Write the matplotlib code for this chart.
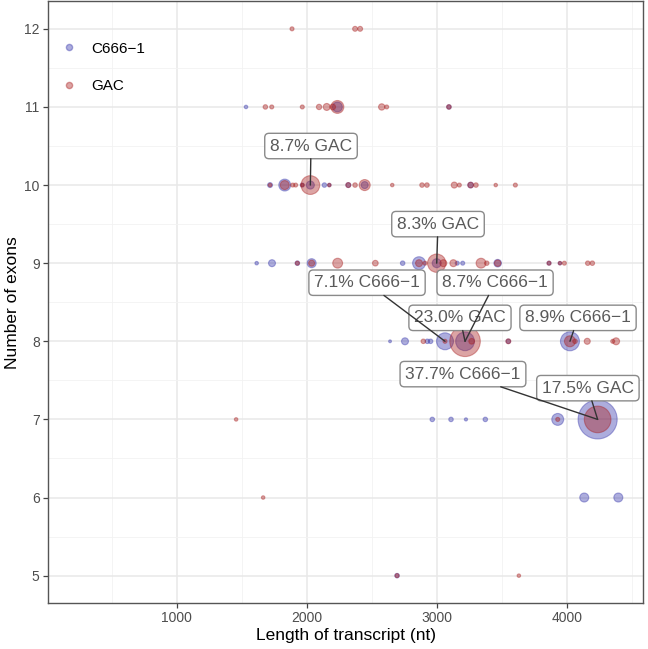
import matplotlib.pyplot as plt
from matplotlib.lines import Line2D
from matplotlib.ticker import MultipleLocator

plt.rcParams['font.family'] = ['Liberation Sans', 'DejaVu Sans']

# -------------------------------------------------
# Data (length nt, exon count, % of transcripts)
# -------------------------------------------------
c666_len = [1533, 2236, 3094,
            1718, 1831, 1966, 2028, 2136, 2174, 2320, 2446, 3261,
            1615, 1733, 1928, 2038, 2738, 2864, 3000, 3158, 3200, 3469, 3864, 3948,
            2641, 2756, 2928, 2953, 3064, 3218, 3551, 4025,
            2966, 3110, 3225, 3374, 3931, 4238,
            4135, 4397,
            2695]
c666_exons = [11, 11, 11,
              10, 10, 10, 10, 10, 10, 10, 10, 10,
              9, 9, 9, 9, 9, 9, 9, 9, 9, 9, 9, 9,
              8, 8, 8, 8, 8, 8, 8, 8,
              7, 7, 7, 7, 7, 7,
              6, 6,
              5]
c666_pct = [0.3, 2.4, 0.5,
            0.6, 3.5, 0.4, 1.6, 0.5, 0.3, 0.6, 1.2, 0.8,
            0.3, 1.2, 0.5, 2.0, 0.5, 4.1, 2.0, 0.4, 0.4, 1.4, 0.4, 0.3,
            0.2, 1.2, 0.5, 0.5, 7.1, 8.7, 0.5, 8.9,
            0.5, 0.5, 0.25, 0.5, 3.5, 37.7,
            2.0, 2.0,
            0.5]

gac_len = [1887, 2372, 2411,
           1682, 1731, 1966, 2095, 2154, 2200, 2236, 2577, 2615, 3094,
           1718, 1831, 1892, 1915, 1966, 2028, 2174, 2320, 2372, 2446, 2658, 2887,
           2925, 3135, 3174, 3261, 3302, 3454, 3605,
           1928, 2038, 2238, 2528, 2864, 2910, 3000, 3051, 3128, 3341, 3385, 3469,
           3864, 3948, 3982, 4162, 4197,
           2897, 3064, 3218, 3269, 3551, 4025, 4064, 4158, 4354, 4380,
           1457, 3931, 4238,
           1665,
           2695, 3632]
gac_exons = [12, 12, 12,
             11, 11, 11, 11, 11, 11, 11, 11, 11, 11,
             10, 10, 10, 10, 10, 10, 10, 10, 10, 10, 10, 10,
             10, 10, 10, 10, 10, 10, 10,
             9, 9, 9, 9, 9, 9, 9, 9, 9, 9, 9, 9,
             9, 9, 9, 9, 9,
             8, 8, 8, 8, 8, 8, 8, 8, 8, 8,
             7, 7, 7,
             6,
             5, 5]
gac_pct = [0.4, 0.6, 0.6,
           0.5, 0.4, 0.4, 0.7, 1.2, 0.8, 4.1, 1.0, 0.4, 0.5,
           0.3, 2.0, 0.4, 0.4, 0.3, 8.7, 0.3, 0.6, 0.5, 3.0, 0.3, 0.5,
           0.5, 0.9, 0.4, 0.8, 0.5, 0.3, 0.4,
           0.4, 0.9, 2.4, 0.8, 1.2, 0.4, 8.3, 1.2, 1.2, 2.4, 0.5, 1.0,
           0.4, 0.3, 0.4, 0.5, 0.5,
           0.5, 0.4, 23.0, 0.8, 0.6, 3.0, 0.5, 0.9, 0.4, 1.2,
           0.3, 0.4, 17.5,
           0.3,
           0.4, 0.3]

# labelled points: text, point (x, y), label centre (x, y)
label_text = ["8.7% GAC", "8.3% GAC", "7.1% C666\u22121", "8.7% C666\u22121",
              "23.0% GAC", "8.9% C666\u22121", "37.7% C666\u22121", "17.5% GAC"]
label_point = [(2028, 10), (3000, 9), (3064, 8), (3218, 8),
               (3218, 8), (4025, 8), (4238, 7), (4238, 7)]
label_pos = [(2033, 10.50), (3010, 9.50), (2464, 8.75), (3449, 8.75),
             (3179, 8.30), (4087, 8.30), (3202, 7.58), (4163, 7.40)]

BLUE = "#3333aa"
RED = "#a81c1c"
SIZE_K = 21.0

# -------------------------------------------------
# Figure
# -------------------------------------------------
fig = plt.figure(figsize=(6.48, 6.49), dpi=100)
ax = fig.add_axes([0.0741, 0.0709, 0.9182, 0.9268])

ax.scatter(c666_len, c666_exons, s=[p * SIZE_K for p in c666_pct],
           facecolor=BLUE, edgecolor=BLUE, alpha=0.4, linewidth=0.8, zorder=3)
ax.scatter(gac_len, gac_exons, s=[p * SIZE_K for p in gac_pct],
           facecolor=RED, edgecolor=RED, alpha=0.4, linewidth=0.8, zorder=4)

box_style = "round,pad=0.3,rounding_size=0.25"

# label boxes first
for txt, pos in zip(label_text, label_pos):
    ax.annotate(txt, xy=pos, ha="center", va="center",
                fontsize=12.5, color="#5a5a5a", zorder=6,
                bbox=dict(boxstyle=box_style, fc="white", ec="#8a8a8a", lw=1.0))

# segments on top of the boxes (clipped at their own invisible box)
for txt, pt, pos in zip(label_text, label_point, label_pos):
    ax.annotate(txt, xy=pt, xytext=pos, ha="center", va="center",
                fontsize=12.5, color="none", zorder=7,
                bbox=dict(boxstyle=box_style, fc="none", ec="none"),
                arrowprops=dict(arrowstyle="-", color="#333333", lw=1.0,
                                shrinkA=0, shrinkB=0))

ax.set_xlim(10, 4587)
ax.set_ylim(4.65, 12.35)
ax.xaxis.set_major_locator(MultipleLocator(1000))
ax.xaxis.set_minor_locator(MultipleLocator(500))
ax.yaxis.set_major_locator(MultipleLocator(1))
ax.yaxis.set_minor_locator(MultipleLocator(0.5))

ax.grid(which="major", color="#e8e8e8", linewidth=1.1, zorder=0)
ax.grid(which="minor", color="#f2f2f2", linewidth=0.6, zorder=0)
ax.set_axisbelow(True)

for sp in ax.spines.values():
    sp.set_color("#555555")
    sp.set_linewidth(1.0)

ax.tick_params(which="major", length=3.5, width=0.9, color="#444444",
               labelsize=10, labelcolor="#4d4d4d", pad=2.5)
ax.tick_params(which="minor", length=0)

ax.set_xlabel("Length of transcript (nt)", fontsize=12.5, labelpad=2)
ax.set_ylabel("Number of exons", fontsize=12.5, labelpad=3)

handles = [Line2D([], [], ls="", marker="o", ms=4.5, color=BLUE, alpha=0.4),
           Line2D([], [], ls="", marker="o", ms=4.5, color=RED, alpha=0.4)]
ax.legend(handles, ["C666\u22121", "GAC"], loc="upper left",
          bbox_to_anchor=(0.022, 0.933), frameon=False, fontsize=11,
          handlelength=1.0, handletextpad=1.0, labelspacing=1.55,
          borderpad=0, borderaxespad=0)

fig.savefig("out.png", dpi=100)
